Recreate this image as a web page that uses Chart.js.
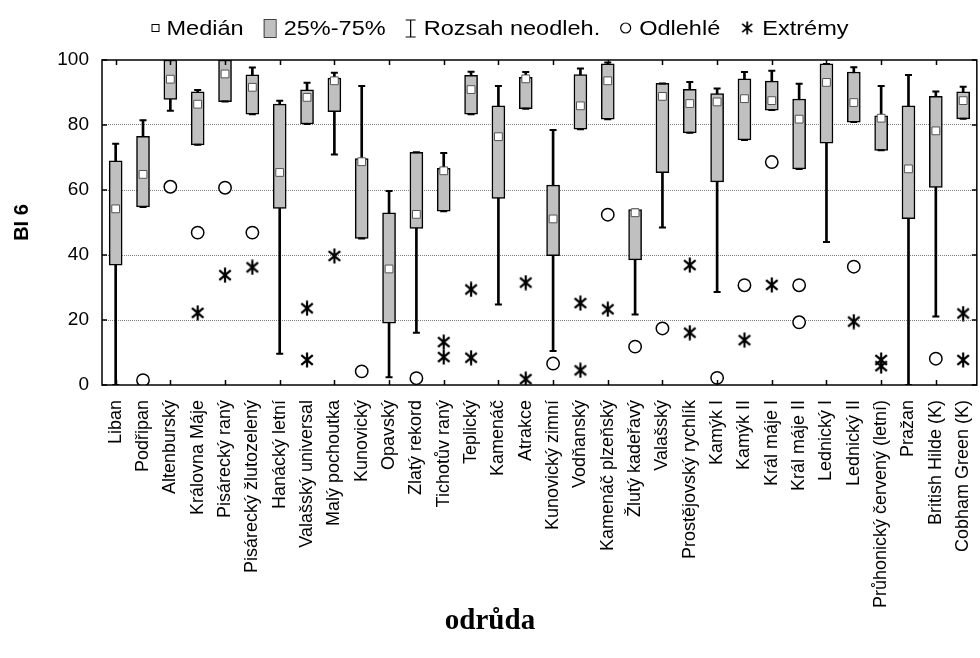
<!DOCTYPE html>
<html>
<head>
<meta charset="utf-8">
<script src="https://cdn.jsdelivr.net/npm/chart.js@4.4.1/dist/chart.umd.min.js"></script>
<style>
  html, body { margin: 0; padding: 0; background: #fff; overflow: hidden; }
  #wrap { width: 1000px; height: 658px; }
</style>
</head>
<body>
<div id="wrap"><canvas id="chart" width="1000" height="658"></canvas></div>
<script>
const categories = [
  "Liban", "Podřipan", "Altenburský", "Královna Máje", "Pisárecký raný",
  "Pisárecký žlutozelený", "Hanácký letní", "Valašský universal", "Malý pochoutka",
  "Kunovický", "Opavský", "Zlatý rekord", "Tichotův raný", "Teplický", "Kamenáč",
  "Atrakce", "Kunovický zimní", "Vodňanský", "Kamenáč plzeňský", "Žlutý kadeřavý",
  "Valašský", "Prostějovský rychlík", "Kamýk I", "Kamýk II", "Král máje I",
  "Král máje II", "Lednický I", "Lednický II", "Průhonický červený (letní)",
  "Pražan", "British Hilde (K)", "Cobham Green (K)"
];
const whiskerLow  = [0, 54.8, 84.4, 73.9, 87.2, 83.3, 9.6, 80.3, 70.9, 45.1, 2.4, 16.1, 53.5, 83.3, 24.8, 85.0,
                     10.5, 78.7, 81.8, 21.7, 48.5, 77.6, 28.6, 75.4, 84.6, 66.5, 44.0, 80.9, 72.2, 0, 21.1, 81.9];
const quartile1   = [36.9, 54.8, 87.9, 73.9, 87.2, 83.3, 54.3, 80.3, 84.1, 45.1, 19.0, 48.2, 53.5, 83.3, 57.4, 85.0,
                     39.8, 78.7, 81.8, 38.5, 65.3, 77.6, 62.5, 75.4, 84.6, 66.5, 74.4, 80.9, 72.2, 51.2, 60.8, 81.9];
const medians     = [54.2, 64.8, 94.1, 86.4, 95.7, 91.6, 65.4, 88.5, 93.6, 68.7, 35.7, 52.5, 65.9, 90.9, 76.4, 94.2,
                     51.1, 85.9, 93.6, 53.0, 88.8, 86.6, 87.1, 88.1, 87.5, 81.8, 93.1, 86.9, 82.1, 66.5, 78.2, 87.5];
const quartile3   = [69.0, 76.5, 100, 90.2, 100, 95.4, 86.4, 90.8, 94.4, 69.7, 53.0, 71.6, 66.7, 95.3, 85.9, 94.7,
                     61.5, 95.5, 98.8, 54.0, 92.8, 91.0, 89.7, 94.2, 93.5, 88.0, 98.8, 96.3, 82.8, 85.9, 88.8, 90.2];
const whiskerHigh = [74.2, 81.5, 100, 90.8, 100, 97.7, 87.5, 93.0, 96.1, 92.0, 59.7, 71.6, 71.4, 96.4, 92.0, 96.3,
                     78.5, 97.4, 99.2, 54.0, 92.8, 93.2, 91.2, 96.3, 96.7, 92.7, 98.8, 97.8, 92.0, 95.4, 90.3, 91.8];
const outliers = [
  ["Podřipan", 1.5], ["Altenburský", 61.0], ["Královna Máje", 46.9], ["Pisárecký raný", 60.7],
  ["Pisárecký žlutozelený", 46.9], ["Kunovický", 4.2], ["Zlatý rekord", 2.1], ["Kunovický zimní", 6.6],
  ["Kamenáč plzeňský", 52.4], ["Žlutý kadeřavý", 11.8], ["Valašský", 17.4], ["Kamýk I", 2.2],
  ["Kamýk II", 30.7], ["Král máje I", 68.6], ["Král máje II", 30.7], ["Král máje II", 19.3],
  ["Lednický II", 36.4], ["British Hilde (K)", 8.1]
];
const extremes = [
  ["Královna Máje", 22.2], ["Pisárecký raný", 33.8], ["Pisárecký žlutozelený", 36.2],
  ["Valašský universal", 23.6], ["Valašský universal", 7.7], ["Malý pochoutka", 39.7],
  ["Tichotův raný", 13.2], ["Tichotův raný", 8.6], ["Teplický", 29.4], ["Teplický", 8.4],
  ["Atrakce", 31.5], ["Atrakce", 1.8], ["Vodňanský", 25.2], ["Vodňanský", 4.5],
  ["Kamenáč plzeňský", 23.3], ["Prostějovský rychlík", 36.9], ["Prostějovský rychlík", 16.1],
  ["Kamýk II", 13.8], ["Král máje I", 30.8], ["Lednický II", 19.5],
  ["Průhonický červený (letní)", 7.7], ["Průhonický červený (letní)", 5.8],
  ["Cobham Green (K)", 22.0], ["Cobham Green (K)", 7.7]
];
const yTicks = [0, 20, 40, 60, 80, 100];
const legendLabels = ["Medián", "25%-75%", "Rozsah neodleh.", "Odlehlé", "Extrémy"];

const sansFont = "'Liberation Sans', Arial, sans-serif";
Chart.defaults.font.family = sansFont;
Chart.defaults.color = "#000";

// asterisk marker for extremes (vertical stroke plus an X)
function makeAsterisk(size, lw) {
  const c = document.createElement("canvas");
  c.width = size; c.height = size;
  const g = c.getContext("2d");
  g.strokeStyle = "#000";
  g.lineWidth = lw;
  const m = size / 2, r = size / 2 - 0.5;
  g.beginPath();
  [90, 40, 140].forEach((a) => {
    const rad = a * Math.PI / 180;
    g.moveTo(m - r * Math.cos(rad), m - r * Math.sin(rad));
    g.lineTo(m + r * Math.cos(rad), m + r * Math.sin(rad));
  });
  g.stroke();
  return c;
}
const asterisk = makeAsterisk(16, 2.2);

// frame around the plot with inside ticks
const framePlugin = {
  id: "frame",
  afterDatasetsDraw(chart) {
    const { ctx, chartArea: a, scales: { x, y } } = chart;
    ctx.save();
    ctx.strokeStyle = "#000";
    ctx.lineWidth = 1.5;
    ctx.strokeRect(a.left, a.top, a.right - a.left, a.bottom - a.top);
    ctx.beginPath();
    categories.forEach((c, i) => {
      if (i % 2) return;
      const px = Math.round(x.getPixelForValue(i)) + 0.5;
      ctx.moveTo(px, a.bottom); ctx.lineTo(px, a.bottom - 5);
      ctx.moveTo(px, a.top); ctx.lineTo(px, a.top + 5);
    });
    yTicks.forEach((v) => {
      const py = y.getPixelForValue(v);
      ctx.moveTo(a.left, py); ctx.lineTo(a.left + 5, py);
      ctx.moveTo(a.right, py); ctx.lineTo(a.right - 5, py);
    });
    ctx.stroke();
    ctx.restore();
  }
};

// legend row and x title, both centred on the figure
const legendPlugin = {
  id: "boxLegend",
  afterDraw(chart) {
    const ctx = chart.ctx;
    const stretch = 1.12, symGap = 8, itemGap = 20, base = 35, mid = 28;
    const symW = [7, 12, 10, 11, 14];
    ctx.save();
    ctx.font = "21px " + sansFont;
    const textW = legendLabels.map((t) => ctx.measureText(t).width * stretch);
    const total = textW.reduce((s, w) => s + w, 0) + symW.reduce((s, w) => s + w, 0)
      + legendLabels.length * symGap + (legendLabels.length - 1) * itemGap;
    let x = 500 - total / 2;

    const drawSymbol = [
      (x0) => {
        ctx.fillStyle = "#fff"; ctx.strokeStyle = "#000"; ctx.lineWidth = 1;
        ctx.fillRect(x0, mid - 3.5, 7, 7);
        ctx.strokeRect(x0 + 0.5, mid - 3.5, 7, 7);
      },
      (x0) => {
        ctx.fillStyle = "#c0c0c0"; ctx.strokeStyle = "#404040"; ctx.lineWidth = 1;
        ctx.fillRect(x0, mid - 9, 12, 18);
        ctx.strokeRect(x0 + 0.5, mid - 8.5, 12, 18);
      },
      (x0) => {
        ctx.strokeStyle = "#000"; ctx.lineWidth = 1.2;
        ctx.beginPath();
        ctx.moveTo(x0 + 5, mid - 8); ctx.lineTo(x0 + 5, mid + 9);
        ctx.moveTo(x0, mid - 8); ctx.lineTo(x0 + 10, mid - 8);
        ctx.moveTo(x0, mid + 9); ctx.lineTo(x0 + 10, mid + 9);
        ctx.stroke();
      },
      (x0) => {
        ctx.strokeStyle = "#000"; ctx.lineWidth = 1.2;
        ctx.beginPath();
        ctx.arc(x0 + 5.5, mid, 5, 0, Math.PI * 2);
        ctx.stroke();
      },
      (x0) => { ctx.drawImage(makeAsterisk(14, 1.8), x0, mid - 7); }
    ];

    legendLabels.forEach((t, i) => {
      drawSymbol[i](x);
      x += symW[i] + symGap;
      ctx.save();
      ctx.translate(x, base);
      ctx.scale(stretch, 1);
      ctx.fillStyle = "#000";
      ctx.textBaseline = "alphabetic";
      ctx.fillText(t, 0, 0);
      ctx.restore();
      x += textW[i] + itemGap;
    });

    ctx.font = "bold 29px 'Liberation Serif', 'Times New Roman', serif";
    ctx.fillStyle = "#000";
    ctx.textAlign = "center";
    ctx.textBaseline = "middle";
    ctx.fillText("odrůda", 490, 622);
    ctx.restore();
  }
};

const pointDataset = (data, style, radius, order, extra) => Object.assign({
  type: "line",
  data,
  showLine: false,
  pointStyle: style,
  pointRadius: radius,
  pointHoverRadius: radius,
  borderColor: "#000",
  backgroundColor: "#fff",
  borderWidth: 1.5,
  order
}, extra || {});

new Chart(document.getElementById("chart"), {
  type: "bar",
  data: {
    labels: categories,
    datasets: [
      {
        label: "Rozsah neodleh.",
        data: categories.map((c, i) => [whiskerLow[i], whiskerHigh[i]]),
        backgroundColor: "#000",
        barThickness: 2,
        grouped: false,
        order: 5
      },
      {
        label: "25%-75%",
        data: categories.map((c, i) => [quartile1[i], quartile3[i]]),
        backgroundColor: "#c0c0c0",
        borderColor: "#000",
        borderWidth: 1.5,
        borderSkipped: false,
        barThickness: 13,
        grouped: false,
        order: 4
      },
      pointDataset(whiskerHigh, "line", 3.5, 3, { borderWidth: 2 }),
      pointDataset(whiskerLow, "line", 3.5, 3, { borderWidth: 2 }),
      pointDataset(medians, "rect", 5.5, 1, { borderColor: "#555", borderWidth: 1 }),
      pointDataset(outliers.map(([c, v]) => ({ x: c, y: v })), "circle", 6.2, 2),
      pointDataset(extremes.map(([c, v]) => ({ x: c, y: v })), asterisk, 8, 2)
    ]
  },
  options: {
    responsive: false,
    animation: false,
    events: [],
    layout: { padding: { left: 0, top: 60, right: 15, bottom: 0 } },
    plugins: { legend: { display: false }, tooltip: { enabled: false } },
    scales: {
      x: {
        offset: true,
        afterFit: (s) => { s.height = 273; },
        grid: { display: false, drawTicks: false },
        border: { display: false },
        ticks: { autoSkip: false, minRotation: 90, maxRotation: 90, padding: 15, font: { size: 18 } }
      },
      y: {
        min: 0,
        max: 100,
        afterFit: (s) => { s.width = 102; },
        afterBuildTicks: (s) => { s.ticks = yTicks.map((v) => ({ value: v })); },
        grid: {
          drawTicks: false,
          lineWidth: 1,
          color: (c) => (c.tick && c.tick.value > 0 && c.tick.value < 100 ? "#808080" : "rgba(0,0,0,0)")
        },
        border: { display: false, dash: [1, 1] },
        ticks: { padding: 13, font: { size: 19 } },
        title: {
          display: true,
          text: "BI 6",
          font: { size: 20, weight: "bold" },
          padding: { top: 10, bottom: 0 }
        }
      }
    }
  },
  plugins: [framePlugin, legendPlugin]
});
</script>
</body>
</html>
